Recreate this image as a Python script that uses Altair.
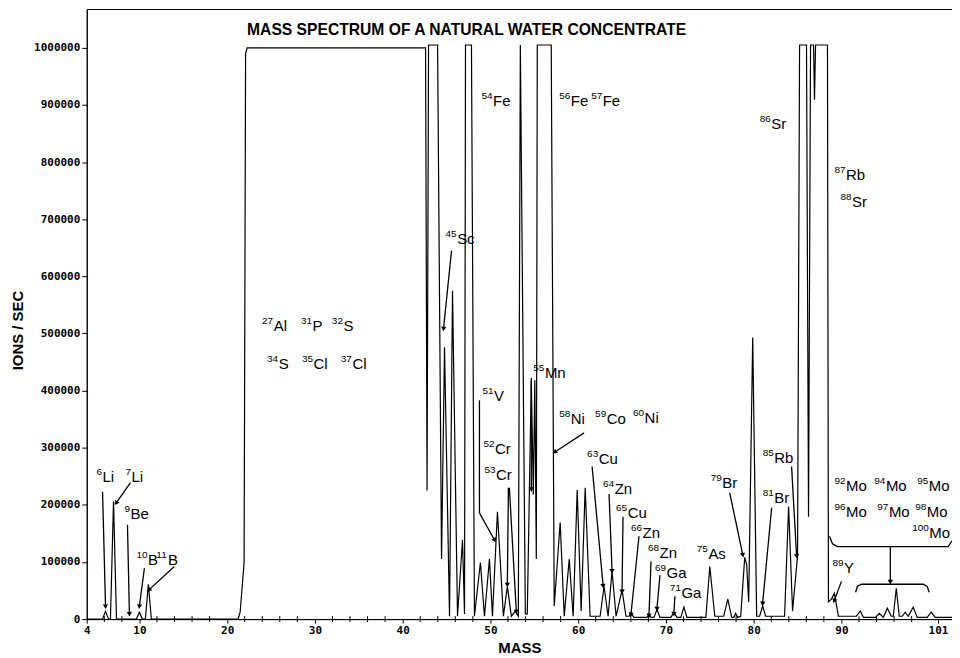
import math
import altair as alt
import pandas as pd

# ---------------- spectrum trace (mass, ions/sec) ----------------
mass = [4.0, 5.80, 6.14, 6.48, 6.70, 7.05, 7.39,
        9.66, 10.00, 10.34, 10.68, 11.02, 11.36,
        21.25, 21.48, 21.93, 22.10, 22.27,
        42.61, 42.78, 42.95, 43.98,
        44.43, 44.77, 45.34, 45.68, 46.25,
        46.82, 47.05, 47.16, 47.84, 48.18,
        48.86, 49.32, 49.89, 50.23, 50.80,
        51.48, 51.93, 52.39, 52.84, 53.18,
        53.41, 53.98, 54.20, 54.66, 54.89,
        55.06, 55.23, 55.34, 56.93, 57.27,
        57.95, 58.41, 58.98, 59.43, 59.89,
        60.34, 60.80, 61.36, 62.50, 62.95,
        63.41, 63.86, 64.32, 65.00, 65.45,
        65.80, 66.02, 66.36, 67.84, 68.07, 68.30,
        68.64, 68.98, 69.32, 70.57, 70.91, 71.25,
        71.70, 72.05, 72.39, 74.55, 75.00, 75.57,
        76.59, 77.05, 77.50, 77.73, 77.95, 78.18,
        78.52, 78.98, 79.20, 79.43, 79.89, 80.34,
        80.68, 81.02, 81.36, 83.52, 83.98, 84.43,
        85.00, 85.23, 86.02, 86.25, 86.48,
        86.82, 86.93, 87.05, 88.41, 88.52,
        88.86, 89.20, 89.66, 91.70, 92.16, 92.50,
        93.86, 94.32, 94.77, 95.23, 95.68, 95.91,
        96.25, 96.59, 96.93, 97.27, 97.61, 98.18,
        98.64, 99.77, 100.23, 100.68, 102.6]
intensity = [0, 0, 14000, 0, 0, 206000, 0,
             0, 12000, 0, 0, 61000, 0,
             0, 12000, 99000, 990000, 1000000,
             1000000, 225000, 1005000, 1005000,
             105000, 476000, 5000, 575000, 5000,
             139000, 9000, 1005000, 1005000, 5000,
             99000, 5000, 105000, 5000, 188000,
             5000, 57000, 5000, 14000, 5000,
             1005000, 9000, 9000, 418000, 218000,
             418000, 105000, 1005000, 1005000, 23000,
             169000, 5000, 105000, 5000, 226000,
             14000, 230000, 5000, 5000, 57000,
             5000, 84000, 5000, 51000, 5000,
             5000, 10000, 3000, 3000, 7000, 3000,
             3000, 17000, 3000, 3000, 12000, 3000,
             3000, 21000, 3000, 3000, 92000, 5000,
             5000, 35000, 3000, 3000, 10000, 3000,
             5000, 108000, 96000, 30000, 493000, 5000,
             5000, 23000, 5000, 5000, 197000, 14000,
             111000, 1005000, 1005000, 179000, 1005000,
             1005000, 909000, 1005000, 1005000, 30000,
             35000, 45000, 5000, 5000, 14000, 3000,
             3000, 10000, 3000, 19000, 5000, 5000,
             54000, 5000, 5000, 12000, 5000, 21000,
             3000, 3000, 12000, 3000, 3000]

# ---------------- axes ----------------
x_ticks = [4, 10, 20, 30, 40, 50, 60, 70, 80, 90, 101]
x_minor = [m for m in range(6, 100, 2) if m % 10 != 0]
y_ticks = [0, 100000, 200000, 300000, 400000, 500000, 600000, 700000, 800000, 900000, 1000000]
XMIN, XMAX = 4.0, 102.6
YMAX = 1068000
W, H = 868, 612

# ---------------- annotations (data coordinates) ----------------
title_text = "MASS SPECTRUM OF A NATURAL WATER CONCENTRATE"
title_pos = (22.27, 1031000)

iso_num = ["6", "7", "9", "10", "11",
           "27", "31", "32", "34", "35", "37",
           "45", "54", "56", "57", "51", "52", "53",
           "55", "58", "59", "60", "63", "64", "65",
           "66", "68", "69", "71", "75", "79", "81",
           "85", "86", "87", "88", "89",
           "92", "94", "95", "96", "97", "98", "100"]
iso_elem = ["Li", "Li", "Be", "B", "B",
            "Al", "P", "S", "S", "Cl", "Cl",
            "Sc", "Fe", "Fe", "Fe", "V", "Cr", "Cr",
            "Mn", "Ni", "Co", "Ni", "Cu", "Zn", "Cu",
            "Zn", "Zn", "Ga", "Ga", "As", "Br", "Br",
            "Rb", "Sr", "Rb", "Sr", "Y",
            "Mo", "Mo", "Mo", "Mo", "Mo", "Mo", "Mo"]
iso_x = [5.11, 8.41, 8.30, 9.66, 11.93,
         23.98, 28.41, 31.93, 24.55, 28.52, 32.95,
         44.89, 48.98, 57.84, 61.48, 49.09, 49.20, 49.32,
         54.89, 57.84, 61.93, 66.25, 61.02, 62.84, 64.32,
         66.02, 67.95, 68.75, 70.45, 73.52, 75.11, 81.02,
         81.02, 80.68, 89.20, 89.89, 88.98,
         89.20, 93.75, 98.64, 89.20, 94.09, 98.41, 98.07]
iso_y = [251000, 251000, 185000, 106000, 106000,
         514000, 514000, 514000, 448000, 448000, 448000,
         667000, 908000, 908000, 908000, 392000, 300000, 254000,
         432000, 352000, 352000, 354000, 282000, 230000, 188000,
         152000, 118000, 82000, 47000, 115000, 240000, 214000,
         284000, 868000, 780000, 732000, 91000,
         235000, 235000, 235000, 190000, 190000, 190000, 152000]

# arrows: start (x1, y1) -> tip (x2, y2); head marks whether an arrowhead is drawn
arr_x1 = [5.80, 8.98, 8.64, 10.57, 13.98, 45.57, 48.75, 48.75, 52.05, 52.16, 54.66,
          60.68, 61.59, 63.52, 65.11, 66.93, 68.30, 69.32, 71.02, 77.27, 82.05, 84.32,
          90.00, 95.57]
arr_y1 = [223000, 239000, 165000, 89000, 92000, 645000, 383000, 186000, 230000, 230000, 422000,
          326000, 267000, 219000, 179000, 145000, 101000, 77000, 40000, 221000, 195000, 267000,
          66000, 127000]
arr_x2 = [6.14, 7.39, 8.86, 10.00, 11.14, 44.66, 48.75, 50.45, 51.93, 52.95, 54.66,
          57.39, 62.84, 63.86, 65.00, 66.02, 68.07, 68.98, 70.91, 78.75, 81.02, 84.89,
          89.20, 95.57]
arr_y2 = [23000, 204000, 10000, 23000, 52000, 509000, 186000, 139000, 61000, 14000, 228000,
          293000, 59000, 85000, 49000, 9000, 7000, 19000, 10000, 113000, 28000, 111000,
          33000, 66000]
arr_head = [True, True, True, True, True, True, False, True, True, True, True,
            True, True, True, True, True, True, True, True, True, True, True,
            True, True]

# Mo brackets
br_id = ["upper"] * 5 + ["lower"] * 6
br_x = [88.64, 88.98, 89.55, 102.16, 102.61,
        91.61, 91.82, 92.27, 99.32, 99.77, 100.00]
br_y = [145000, 132000, 127000, 127000, 137000,
        47000, 57000, 61000, 61000, 57000, 47000]

# ---------------- build ----------------
xs = alt.Scale(domain=[XMIN, XMAX], nice=False, zero=False)
ys = alt.Scale(domain=[0, YMAX], nice=False)

FONT = "Liberation Sans"
MONO = "DejaVu Sans Mono"
SUP_SIZE = 10
ELEM_SIZE = 15

x_axis = alt.Axis(
    values=x_ticks, format="d", title="MASS", grid=False,
    labelFont=MONO, labelFontSize=11, labelFontWeight="bold", labelColor="black",
    labelFlush=False, tickSize=4, tickColor="black", labelPadding=1,
    domainColor="black", titleFont=FONT, titleFontSize=15, titleFontWeight="bold",
    titleColor="black", titlePadding=6)
y_axis = alt.Axis(
    values=y_ticks, format="d", title="IONS / SEC", grid=False,
    labelFont=MONO, labelFontSize=11, labelFontWeight="bold", labelColor="black",
    tickSize=5, tickColor="black", labelPadding=2, domainColor="black",
    titleFont=FONT, titleFontSize=15, titleFontWeight="bold", titleColor="black",
    titlePadding=8, titleY=322)


def X(field):
    return alt.X(field, scale=xs, axis=x_axis, title="MASS")


def Y(field):
    return alt.Y(field, scale=ys, axis=y_axis, title="IONS / SEC")


spec_df = pd.DataFrame({"mass": mass, "ions": intensity, "i": range(len(mass))})
spectrum = alt.Chart(spec_df).mark_line(color="black", strokeWidth=1.2).encode(
    x=X("mass:Q"), y=Y("ions:Q"), order="i:Q",
)

minor_df = pd.DataFrame({"mass": x_minor})
minor = alt.Chart(minor_df).mark_rule(color="black", strokeWidth=1).encode(
    x=X("mass:Q"), y=alt.value(H - 3), y2=alt.value(H + 3),
)

px_per_mass = W / (XMAX - XMIN)
px_per_val = H / YMAX
arr_df = pd.DataFrame({"x1": arr_x1, "y1": arr_y1, "x2": arr_x2, "y2": arr_y2, "head": arr_head})
arr_df["angle"] = [
    (math.degrees(math.atan2((b - a) * px_per_mass, (d - c) * px_per_val)) + 360) % 360
    for a, b, c, d in zip(arr_x1, arr_x2, arr_y1, arr_y2)
]

shafts = alt.Chart(arr_df).mark_rule(color="black", strokeWidth=1.3).encode(
    x=X("x1:Q"), y=Y("y1:Q"), x2="x2:Q", y2="y2:Q",
)

heads = alt.Chart(arr_df[arr_df["head"]]).mark_point(
    shape="triangle", filled=True, color="black", size=28, opacity=1
).encode(
    x=X("x2:Q"), y=Y("y2:Q"), angle=alt.Angle("angle:Q", scale=None),
)

br_df = pd.DataFrame({"id": br_id, "x": br_x, "y": br_y, "k": range(len(br_x))})
brackets = alt.Chart(br_df).mark_line(color="black", strokeWidth=1.3).encode(
    x=X("x:Q"), y=Y("y:Q"), detail="id:N", order="k:Q",
)

# mass numbers as small raised text, element symbols after them
sup_w = 0.556 * SUP_SIZE  # digit advance in px
lab_df = pd.DataFrame({"num": iso_num, "elem": iso_elem, "x": iso_x, "y": iso_y})
lab_df["xe"] = [x + (len(n) * sup_w + 0.5) / px_per_mass for x, n in zip(iso_x, iso_num)]

sups = alt.Chart(lab_df).mark_text(
    align="left", baseline="middle", font=FONT, fontSize=SUP_SIZE, color="black", dy=-4
).encode(x=X("x:Q"), y=Y("y:Q"), text="num:N")

elems = alt.Chart(lab_df).mark_text(
    align="left", baseline="middle", font=FONT, fontSize=ELEM_SIZE, color="black", dy=1
).encode(x=X("xe:Q"), y=Y("y:Q"), text="elem:N")

ttl_df = pd.DataFrame({"t": [title_text], "x": [title_pos[0]], "y": [title_pos[1]]})
title = alt.Chart(ttl_df).mark_text(
    align="left", baseline="middle", font=FONT, fontSize=15.7, fontWeight="bold", color="black"
).encode(x=X("x:Q"), y=Y("y:Q"), text="t:N")

chart = alt.layer(spectrum, minor, shafts, heads, brackets, sups, elems, title).properties(
    width=W, height=H,
    autosize=alt.AutoSizeParams(type="none"),
    padding={"left": 79, "top": 0, "right": 0, "bottom": 38},
    background="white",
).configure_view(stroke="black", strokeWidth=1)

chart.save("out.html", embed_options={"renderer": "svg", "actions": False})
